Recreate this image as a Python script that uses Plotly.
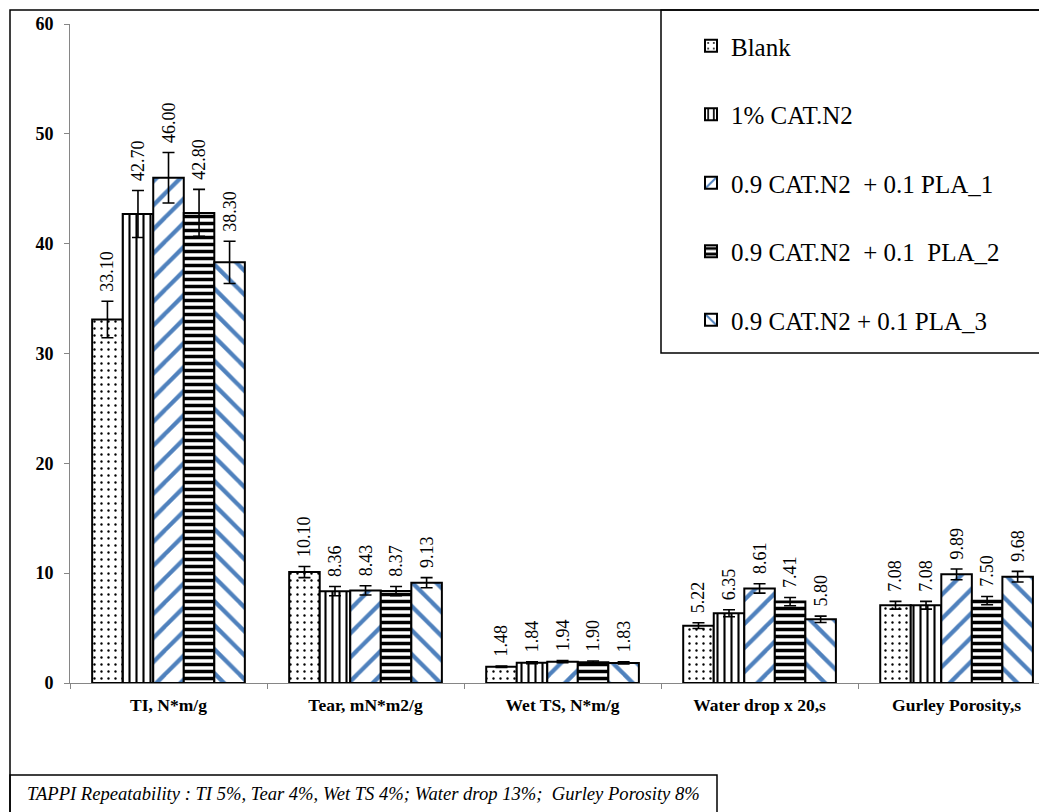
import plotly.graph_objects as go

categories = ["TI, N*m/g", "Tear, mN*m2/g", "Wet TS, N*m/g", "Water drop x 20,s", "Gurley Porosity,s"]

series_names = ["Blank", "1% CAT.N2", "0.9 CAT.N2  + 0.1 PLA_1", "0.9 CAT.N2  + 0.1  PLA_2", "0.9 CAT.N2 + 0.1 PLA_3"]

blank = [33.10, 10.10, 1.48, 5.22, 7.08]
cat_n2 = [42.70, 8.36, 1.84, 6.35, 7.08]
pla_1 = [46.00, 8.43, 1.94, 8.61, 9.89]
pla_2 = [42.80, 8.37, 1.90, 7.41, 7.50]
pla_3 = [38.30, 9.13, 1.83, 5.80, 9.68]

blank_err = [1.66, 0.51, 0.07, 0.26, 0.35]
cat_n2_err = [2.14, 0.42, 0.09, 0.32, 0.35]
pla_1_err = [2.30, 0.42, 0.10, 0.43, 0.49]
pla_2_err = [2.14, 0.42, 0.10, 0.37, 0.38]
pla_3_err = [1.92, 0.46, 0.09, 0.29, 0.48]

y_ticks = [0, 10, 20, 30, 40, 50, 60]

footnote = "TAPPI Repeatability : TI 5%, Tear 4%, Wet TS 4%; Water drop 13%;  Gurley Porosity 8%"

values = [blank, cat_n2, pla_1, pla_2, pla_3]
errors = [blank_err, cat_n2_err, pla_1_err, pla_2_err, pla_3_err]

BLUE = "#4F81BD"
patterns = [
    dict(shape=".", fgcolor="black", bgcolor="white", size=7, solidity=0.09, fgopacity=1, fillmode="overlay"),
    dict(shape="|", fgcolor="black", bgcolor="white", size=7, solidity=0.3, fgopacity=1, fillmode="overlay"),
    dict(shape="/", fgcolor=BLUE, bgcolor="white", size=17, solidity=0.25, fgopacity=1, fillmode="overlay"),
    dict(shape="-", fgcolor="black", bgcolor="white", size=7, solidity=0.5, fgopacity=1, fillmode="overlay"),
    dict(shape="\\", fgcolor=BLUE, bgcolor="white", size=17, solidity=0.25, fgopacity=1, fillmode="overlay"),
]

SERIF = "Liberation Serif"

# page has an 8px body margin; work in page pixels
OFF = 8
W, H = 1047 - OFF, 812 - OFF
ML, MT = 70 - OFF, 24 - OFF
MB = H - (683 - OFF)
PW = W - ML
PH = (683 - OFF) - MT


def px_x(p):
    return (p - 70) / PW


def px_y(p):
    return (683 - p) / PH


fig = go.Figure()

for i, name in enumerate(series_names):
    fig.add_trace(go.Bar(
        x=categories, y=values[i], name=name,
        offsetgroup=str(i), legendgroup=str(i),
        marker=dict(color="white", pattern=patterns[i], line=dict(color="black", width=2)),
        error_y=dict(type="data", array=errors[i], visible=True, color="black", thickness=1.6, width=6),
        hoverinfo="skip",
    ))

label_lift = [0.6] * len(categories)
for i, name in enumerate(series_names):
    tops = [v + e for v, e in zip(values[i], errors[i])]
    fig.add_trace(go.Bar(
        x=categories, y=label_lift, base=tops,
        offsetgroup=str(i), showlegend=False,
        marker=dict(color="rgba(0,0,0,0)", line=dict(width=0)),
        text=[f"{v:.2f}" for v in values[i]],
        textposition="outside", textangle=-90, constraintext="none",
        cliponaxis=False,
        textfont=dict(family=SERIF, size=18, color="black"),
        hoverinfo="skip",
    ))

fig.update_layout(
    width=W, height=H,
    margin=dict(l=ML, r=0, t=MT, b=MB, autoexpand=False),
    paper_bgcolor="white", plot_bgcolor="white",
    barmode="group", bargap=0.225, bargroupgap=0,
    font=dict(family=SERIF, color="black"),
    legend=dict(
        x=px_x(691), y=px_y(23), xanchor="left", yanchor="top",
        font=dict(family=SERIF, size=25, color="black"),
        bgcolor="rgba(0,0,0,0)", borderwidth=0,
        tracegroupgap=33,
    ),
    xaxis=dict(
        type="category", range=[-0.5, 4.459],
        showline=True, linecolor="#868686", linewidth=1,
        ticks="outside", tickson="boundaries", ticklen=5, tickcolor="#868686",
        showgrid=False, zeroline=False,
        tickfont=dict(family=SERIF, size=17.5, color="black", weight="bold"),
        ticklabelstandoff=6,
    ),
    yaxis=dict(
        range=[0, 60], tickvals=y_ticks,
        showline=True, linecolor="#868686", linewidth=1,
        ticks="outside", ticklen=5, tickcolor="#868686",
        showgrid=False, zeroline=False,
        tickfont=dict(family=SERIF, size=18, color="black", weight="bold"),
        ticklabelstandoff=7,
    ),
    shapes=[
        dict(type="rect", xref="paper", yref="paper",
             x0=px_x(10), x1=px_x(1200), y0=px_y(1000), y1=px_y(10),
             line=dict(color="black", width=1.5), fillcolor="rgba(0,0,0,0)", layer="above"),
        dict(type="rect", xref="paper", yref="paper",
             x0=px_x(661), x1=px_x(1200), y0=px_y(353), y1=px_y(10),
             line=dict(color="black", width=1.5), fillcolor="rgba(0,0,0,0)", layer="above"),
        dict(type="rect", xref="paper", yref="paper",
             x0=px_x(10), x1=px_x(717), y0=px_y(1000), y1=px_y(775),
             line=dict(color="black", width=1.5), fillcolor="rgba(0,0,0,0)", layer="above"),
    ],
    annotations=[
        dict(text=footnote, xref="paper", yref="paper",
             x=px_x(25), y=px_y(793), xanchor="left", yanchor="middle",
             showarrow=False,
             font=dict(family=SERIF, size=18.6, color="black", style="italic")),
    ],
)

fig.write_html("out.html", config={"displayModeBar": False})
